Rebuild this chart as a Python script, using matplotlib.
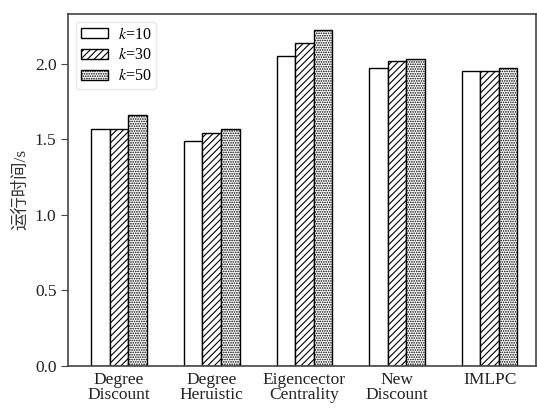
import numpy as np
import matplotlib.pyplot as plt

plt.rcParams['font.family'] = ['Liberation Serif', 'Noto Sans CJK SC']
plt.rcParams['mathtext.fontset'] = 'stix'
plt.rcParams['hatch.linewidth'] = 0.8

methods = ['Degree\nDiscount', 'Degree\nHeruistic', 'Eigencector\nCentrality', 'New\nDiscount', 'IMLPC']
k10 = [1.57, 1.49, 2.05, 1.97, 1.955]
k30 = [1.57, 1.54, 2.14, 2.02, 1.955]
k50 = [1.66, 1.57, 2.22, 2.03, 1.97]

fig = plt.figure(figsize=(5.37, 4.08), dpi=100)
ax = fig.add_axes([0.127, 0.103, 0.871, 0.863])

x = np.arange(len(methods))
w = 0.2
ax.bar(x - w, k10, w, color='white', edgecolor='black', linewidth=1, label='$k$=10')
ax.bar(x, k30, w, color='white', edgecolor='black', linewidth=1, hatch='/////', label='$k$=30')
ax.bar(x + w, k50, w, color='white', edgecolor='black', linewidth=1, hatch='.......', label='$k$=50')

ax.set_xlim(-0.55, 4.5)
ax.set_ylim(0, 2.33)
ax.set_yticks([0.0, 0.5, 1.0, 1.5, 2.0])
ax.set_xticks(x)
ax.set_xticklabels(methods, fontsize=12.5, linespacing=0.95, color='#222222')
ax.tick_params(axis='x', length=0, pad=4)
ax.tick_params(axis='y', direction='out', length=5, labelsize=12.5, color='#444444', labelcolor='#222222')
ax.set_ylabel('运行时间/s', fontsize=12.5, color='#333333')
for s in ax.spines.values():
    s.set_color('#444444')
    s.set_linewidth(1.2)

ax.legend(loc='upper left', fontsize=11.5, handlelength=1.7, handleheight=0.6,
          labelspacing=0.3, borderpad=0.3, handletextpad=0.6, framealpha=0.8,
          edgecolor='#e4e4e4')

plt.savefig('out.png', dpi=100)
